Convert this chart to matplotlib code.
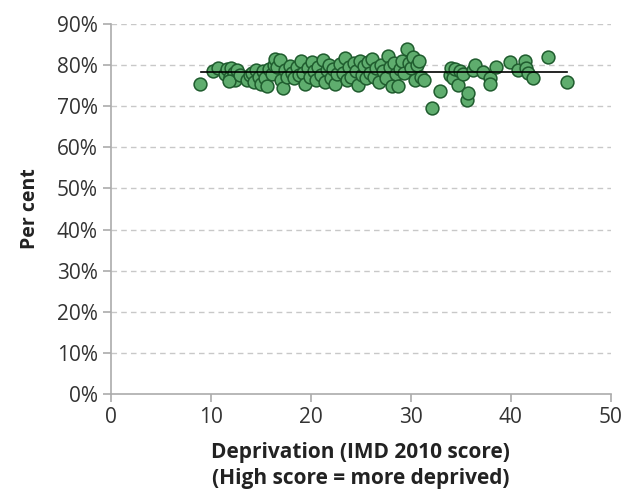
import numpy as np
import matplotlib.pyplot as plt
from matplotlib.ticker import FuncFormatter

plt.rcParams['font.family'] = ['Open Sans', 'DejaVu Sans']

# deprivation score (x) and per cent (y)
imd = [8.9, 10.2, 10.7, 11.4, 11.6, 11.9, 12.0, 12.3, 12.4, 12.6, 11.8, 12.9,
       13.6, 13.9, 14.1, 14.3, 14.5, 14.8, 15.0, 15.2, 15.4, 15.6, 15.8, 16.1,
       16.3, 16.4, 16.6, 16.9, 17.0, 17.2, 17.4, 17.6, 17.9, 18.1, 18.3, 18.6, 18.8,
       19.0, 19.2, 19.4, 19.7, 19.9, 20.1, 20.3, 20.5, 20.7, 21.0, 21.2, 21.4,
       21.6, 21.8, 22.0, 22.2, 22.4, 22.6,
       22.9, 23.2, 23.4, 23.6, 23.8, 24.0, 24.3, 24.5, 24.7, 24.9, 25.1, 25.3,
       25.5, 25.7, 25.9, 26.1, 26.3, 26.5,
       26.8, 27.0, 27.2, 27.5, 27.7, 27.9, 28.1, 28.3, 28.5, 28.7, 28.9, 29.1,
       29.3, 29.6, 29.8, 30.0, 30.2,
       30.4, 30.6, 30.8, 31.0, 31.3, 32.1, 32.9,
       33.9, 34.0, 34.2, 34.4, 34.7, 34.9, 35.2, 35.6, 35.7, 36.2, 36.4, 37.2,
       37.9, 37.9, 38.5, 39.9, 40.7, 41.4, 41.5, 41.7, 42.2, 43.7, 45.6]
pct = [75.3, 78.5, 79.2, 77.8, 79.0, 77.0, 79.3, 78.0, 76.5, 78.8, 76.2, 77.5,
       76.5, 77.5, 78.2, 76.0, 78.8, 77.2, 75.5, 78.5, 76.8, 74.8, 79.0, 77.8,
       80.0, 81.5, 79.5, 81.3, 76.5, 74.5, 78.8, 77.0, 79.8, 78.0, 76.8, 79.5, 77.5,
       81.0, 78.0, 75.5, 79.2, 77.0, 80.8, 78.5, 76.5, 79.5, 77.5, 81.2, 76.0,
       78.8, 80.0, 76.8, 79.0, 75.5, 77.8,
       80.2, 78.0, 81.8, 76.5, 79.5, 77.0, 80.5, 78.5, 75.2, 81.0, 77.5, 79.8,
       76.8, 80.8, 78.0, 81.5, 77.2, 79.2,
       76.0, 80.0, 78.5, 76.8, 82.2, 79.5, 75.0, 80.5, 77.8, 75.0, 79.0, 81.0,
       78.0, 84.0, 80.5, 79.2, 82.0,
       76.5, 80.0, 81.0, 77.0, 76.5, 69.6, 73.7,
       77.6, 79.3, 76.8, 79.0, 75.2, 78.5, 77.8, 71.5, 73.2, 78.8, 80.0, 78.3,
       76.9, 75.4, 79.5, 80.8, 78.8, 81.0, 79.3, 78.0, 76.9, 82.0, 75.9]

# average line
line_x = [9.0, 45.6]
line_y = [78.4, 78.4]

fig = plt.figure(figsize=(6.27, 4.9), dpi=100)
ax = fig.add_axes([0.177, 0.196, 0.797, 0.755])

for v in range(10, 91, 10):
    ax.axhline(v, color='#c8c8c8', lw=1, ls=(0, (4, 3)), zorder=0)

ax.scatter(imd, pct, s=85, c='#5fad6e', edgecolors='#1f5c2e', linewidths=1.1, zorder=2)
ax.plot(line_x, line_y, color='black', lw=1.2, zorder=3)

ax.set_xlim(0, 50)
ax.set_ylim(0, 90)
ax.set_xticks(range(0, 51, 10))
ax.set_yticks(range(0, 91, 10))
ax.yaxis.set_major_formatter(FuncFormatter(lambda v, p: f'{int(v)}%'))

for s in ['top', 'right']:
    ax.spines[s].set_visible(False)
for s in ['left', 'bottom']:
    ax.spines[s].set_color('#ababab')
    ax.spines[s].set_linewidth(1.2)
ax.tick_params(colors='#ababab', labelcolor='#333333', labelsize=15, length=6, width=1.2)

ax.set_xlabel('Deprivation (IMD 2010 score)\n(High score = more deprived)',
              fontsize=15, fontweight='bold', color='#222222', labelpad=10, linespacing=1.3)
ax.set_ylabel('Per cent', fontsize=14, fontweight='bold', color='#222222', labelpad=12)

fig.savefig('out.png', dpi=100)
